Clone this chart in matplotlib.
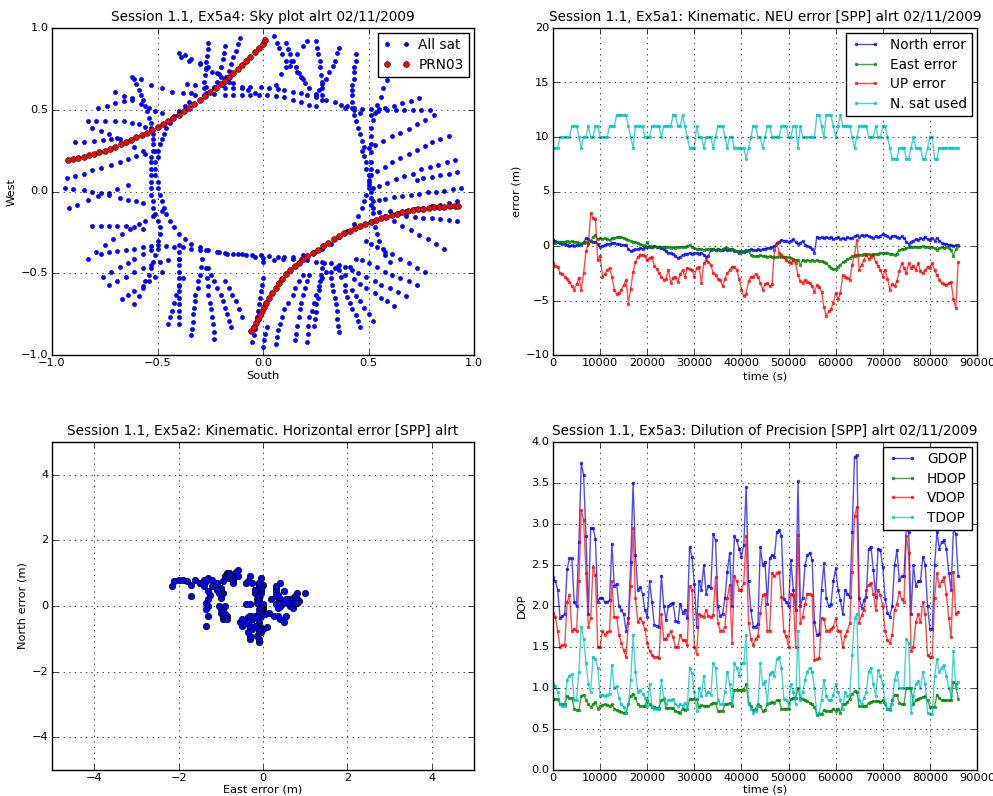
import numpy as np
import matplotlib
matplotlib.use('Agg')
import matplotlib.pyplot as plt

plt.style.use('classic')
plt.rcParams['font.size'] = 8.2
plt.rcParams['figure.facecolor'] = 'white'
plt.rcParams['savefig.facecolor'] = 'white'
plt.rcParams['xtick.major.pad'] = 2.5
plt.rcParams['ytick.major.pad'] = 2.5

# ---------------- sky plot (PRN03 highlighted) ----------------
prn03_a_x = [-0.925, -0.90, -0.875, -0.85, -0.825, -0.80, -0.775, -0.75, -0.725, -0.70,
             -0.675, -0.65, -0.625, -0.60, -0.575, -0.55, -0.525, -0.50, -0.475, -0.45,
             -0.425, -0.40, -0.375, -0.35, -0.325, -0.30, -0.275, -0.25, -0.225, -0.20,
             -0.18, -0.16, -0.14, -0.12, -0.10, -0.08, -0.06, -0.04, -0.02, 0.0, 0.01]
prn03_a_y = [0.19, 0.197, 0.205, 0.213, 0.222, 0.23, 0.24, 0.25, 0.262, 0.275,
             0.29, 0.305, 0.318, 0.333, 0.347, 0.36, 0.378, 0.395, 0.41, 0.43,
             0.45, 0.47, 0.49, 0.51, 0.535, 0.56, 0.585, 0.61, 0.635, 0.655,
             0.675, 0.70, 0.725, 0.75, 0.775, 0.80, 0.825, 0.855, 0.88, 0.905, 0.925]
prn03_b_x = [-0.055, -0.045, -0.035, -0.025, -0.015, -0.005, 0.005, 0.015, 0.03, 0.045,
             0.06, 0.075, 0.09, 0.11, 0.13, 0.15, 0.17, 0.19, 0.21, 0.235,
             0.26, 0.285, 0.31, 0.335, 0.36, 0.385, 0.41, 0.435, 0.46, 0.485,
             0.51, 0.535, 0.56, 0.585, 0.61, 0.635, 0.66, 0.685, 0.71, 0.735,
             0.76, 0.785, 0.81, 0.835, 0.86, 0.885, 0.91, 0.925]
prn03_b_y = [-0.855, -0.83, -0.805, -0.78, -0.755, -0.73, -0.705, -0.68, -0.65, -0.62,
             -0.59, -0.56, -0.535, -0.505, -0.48, -0.455, -0.435, -0.415, -0.395, -0.375,
             -0.355, -0.335, -0.313, -0.293, -0.275, -0.255, -0.24, -0.225, -0.21, -0.198,
             -0.186, -0.175, -0.164, -0.155, -0.145, -0.136, -0.128, -0.12, -0.114, -0.108,
             -0.104, -0.10, -0.097, -0.095, -0.093, -0.091, -0.09, -0.089]

sky_tracks = [
    # inner ring
    [(-0.32, 0.59), (-0.35, 0.55), (-0.37, 0.52), (-0.40, 0.49), (-0.42, 0.46), (-0.44, 0.42),
     (-0.46, 0.39), (-0.47, 0.35), (-0.48, 0.32), (-0.49, 0.29), (-0.50, 0.25), (-0.50, 0.21),
     (-0.51, 0.18), (-0.51, 0.14), (-0.51, 0.10), (-0.50, 0.06), (-0.50, 0.02), (-0.49, -0.02),
     (-0.48, -0.06), (-0.47, -0.10), (-0.46, -0.14), (-0.44, -0.18), (-0.42, -0.22), (-0.40, -0.26),
     (-0.37, -0.29), (-0.34, -0.32), (-0.30, -0.34), (-0.26, -0.36), (-0.21, -0.37), (-0.17, -0.38),
     (-0.12, -0.385), (-0.08, -0.39), (-0.04, -0.40), (0.0, -0.405)],
    [(-0.61, 0.69), (-0.60, 0.66), (-0.59, 0.62), (-0.58, 0.59), (-0.57, 0.56), (-0.56, 0.52),
     (-0.55, 0.49), (-0.54, 0.45), (-0.53, 0.42), (-0.53, 0.39), (-0.52, 0.35), (-0.52, 0.32),
     (-0.52, 0.29), (-0.52, 0.25), (-0.53, 0.21), (-0.53, 0.18), (-0.53, 0.14), (-0.53, 0.10),
     (-0.53, 0.06), (-0.53, 0.02), (-0.53, -0.02), (-0.52, -0.06), (-0.52, -0.10), (-0.51, -0.14),
     (-0.50, -0.18), (-0.49, -0.22), (-0.49, -0.26), (-0.50, -0.30), (-0.50, -0.35), (-0.51, -0.39),
     (-0.52, -0.43), (-0.53, -0.47), (-0.54, -0.51), (-0.56, -0.55), (-0.57, -0.59), (-0.59, -0.64),
     (-0.61, -0.69)],
    [(0.61, 0.72), (0.59, 0.68), (0.57, 0.63), (0.56, 0.58), (0.54, 0.53), (0.53, 0.48),
     (0.52, 0.44), (0.51, 0.39), (0.51, 0.34), (0.51, 0.29), (0.51, 0.24), (0.51, 0.18),
     (0.51, 0.14), (0.50, 0.10), (0.50, 0.06), (0.50, 0.02), (0.49, -0.02), (0.48, -0.06),
     (0.47, -0.10), (0.45, -0.15), (0.43, -0.20), (0.40, -0.24), (0.36, -0.28), (0.32, -0.32),
     (0.28, -0.35), (0.24, -0.37), (0.19, -0.39), (0.14, -0.40), (0.095, -0.41), (0.05, -0.42),
     (0.0, -0.43)],
    [(0.44, 0.84), (0.44, 0.80), (0.43, 0.76), (0.43, 0.73), (0.43, 0.69), (0.42, 0.65),
     (0.42, 0.62), (0.42, 0.59), (0.42, 0.55), (0.42, 0.51), (0.43, 0.47), (0.44, 0.43),
     (0.45, 0.39), (0.46, 0.35), (0.47, 0.31), (0.48, 0.27), (0.48, 0.22), (0.49, 0.18),
     (0.49, 0.14), (0.50, 0.10), (0.50, 0.07), (0.50, 0.04), (0.51, 0.0), (0.51, -0.04),
     (0.51, -0.08), (0.52, -0.13), (0.52, -0.18), (0.53, -0.22), (0.54, -0.26), (0.55, -0.30),
     (0.57, -0.35), (0.58, -0.39), (0.60, -0.43)],
    [(-0.36, 0.66), (-0.32, 0.65), (-0.27, 0.64), (-0.23, 0.64), (-0.18, 0.635), (-0.14, 0.63),
     (-0.10, 0.635), (-0.06, 0.64), (-0.01, 0.64), (0.03, 0.635), (0.07, 0.625), (0.10, 0.62),
     (0.14, 0.61), (0.18, 0.60), (0.21, 0.59), (0.25, 0.58), (0.30, 0.56), (0.34, 0.545),
     (0.37, 0.53), (0.40, 0.52), (0.43, 0.50), (0.46, 0.48)],
    [(-0.27, 0.60), (-0.23, 0.595), (-0.18, 0.59), (-0.14, 0.59), (-0.10, 0.59), (-0.06, 0.59),
     (-0.02, 0.59), (0.02, 0.59), (0.06, 0.585), (0.10, 0.575), (0.14, 0.56), (0.18, 0.545),
     (0.22, 0.53), (0.25, 0.52)],
    [(-0.77, -0.38), (-0.73, -0.37), (-0.69, -0.365), (-0.65, -0.36), (-0.61, -0.35), (-0.57, -0.34),
     (-0.53, -0.335), (-0.50, -0.33), (-0.46, -0.335), (-0.42, -0.34), (-0.38, -0.34), (-0.34, -0.35),
     (-0.30, -0.355), (-0.27, -0.36), (-0.22, -0.37), (-0.18, -0.375), (-0.14, -0.38), (-0.10, -0.385),
     (-0.05, -0.39), (-0.01, -0.39), (0.03, -0.395), (0.07, -0.40), (0.10, -0.40), (0.14, -0.41),
     (0.18, -0.415), (0.21, -0.42), (0.25, -0.43), (0.29, -0.435), (0.32, -0.44), (0.36, -0.45),
     (0.41, -0.46)],
    # outer passes, top left
    [(-0.40, 0.85), (-0.37, 0.835), (-0.34, 0.81), (-0.30, 0.785), (-0.26, 0.76), (-0.22, 0.725),
     (-0.18, 0.69), (-0.14, 0.665), (-0.10, 0.64), (-0.07, 0.62), (-0.04, 0.60)],
    [(-0.39, 0.82), (-0.35, 0.80), (-0.30, 0.78), (-0.27, 0.755), (-0.24, 0.73), (-0.20, 0.70),
     (-0.16, 0.67)],
    [(-0.26, 0.91), (-0.26, 0.87), (-0.265, 0.83), (-0.27, 0.79), (-0.27, 0.75), (-0.275, 0.71),
     (-0.28, 0.67), (-0.28, 0.63), (-0.28, 0.59)],
    [(-0.18, 0.89), (-0.185, 0.85), (-0.19, 0.81), (-0.20, 0.76), (-0.21, 0.72), (-0.22, 0.67),
     (-0.23, 0.63)],
    [(-0.11, 0.94), (-0.12, 0.90), (-0.13, 0.86), (-0.14, 0.82), (-0.15, 0.78), (-0.16, 0.74),
     (-0.175, 0.70), (-0.19, 0.65)],
    [(-0.62, 0.70), (-0.58, 0.69), (-0.53, 0.65), (-0.48, 0.63), (-0.43, 0.61), (-0.38, 0.60),
     (-0.34, 0.60)],
    [(-0.70, 0.61), (-0.66, 0.585), (-0.62, 0.56), (-0.58, 0.535), (-0.54, 0.51), (-0.51, 0.495),
     (-0.48, 0.48)],
    [(-0.78, 0.51), (-0.74, 0.525), (-0.70, 0.54), (-0.66, 0.555), (-0.62, 0.57)],
    [(-0.83, 0.43), (-0.79, 0.43), (-0.75, 0.43), (-0.70, 0.43), (-0.66, 0.43), (-0.62, 0.42),
     (-0.59, 0.41), (-0.56, 0.395), (-0.53, 0.38)],
    [(-0.81, 0.39), (-0.77, 0.37), (-0.73, 0.35), (-0.69, 0.325), (-0.65, 0.30), (-0.61, 0.275),
     (-0.57, 0.25)],
    [(-0.89, 0.30), (-0.85, 0.305), (-0.80, 0.31), (-0.76, 0.315), (-0.72, 0.32), (-0.68, 0.32)],
    [(-0.93, 0.08), (-0.89, 0.095), (-0.85, 0.11), (-0.81, 0.13), (-0.77, 0.145), (-0.72, 0.165),
     (-0.68, 0.18), (-0.64, 0.20), (-0.60, 0.215), (-0.56, 0.23), (-0.51, 0.25)],
    # left
    [(-0.94, 0.02), (-0.90, 0.015), (-0.85, 0.01), (-0.81, 0.0), (-0.77, -0.01), (-0.73, -0.02),
     (-0.68, -0.04), (-0.64, -0.05), (-0.60, -0.06), (-0.57, -0.07)],
    [(-0.92, -0.10), (-0.88, -0.08), (-0.83, -0.05), (-0.78, -0.03), (-0.73, -0.01), (-0.69, 0.015),
     (-0.64, 0.04)],
    [(-0.81, -0.21), (-0.77, -0.21), (-0.73, -0.21), (-0.69, -0.21), (-0.65, -0.21), (-0.61, -0.22),
     (-0.57, -0.23)],
    [(-0.83, -0.41), (-0.79, -0.37), (-0.75, -0.33), (-0.71, -0.29), (-0.67, -0.26), (-0.63, -0.23),
     (-0.59, -0.20), (-0.56, -0.18), (-0.52, -0.15), (-0.48, -0.12)],
    [(-0.76, -0.52), (-0.72, -0.49), (-0.68, -0.46), (-0.64, -0.435), (-0.61, -0.41), (-0.57, -0.385),
     (-0.53, -0.36)],
    [(-0.73, -0.57), (-0.69, -0.545), (-0.65, -0.52), (-0.61, -0.495), (-0.57, -0.47), (-0.53, -0.45),
     (-0.49, -0.43), (-0.45, -0.42), (-0.40, -0.41)],
    [(-0.67, -0.66), (-0.64, -0.635), (-0.61, -0.61), (-0.57, -0.58), (-0.54, -0.55), (-0.51, -0.52),
     (-0.48, -0.49)],
    # bottom left
    [(-0.40, -0.33), (-0.40, -0.37), (-0.40, -0.41), (-0.40, -0.45), (-0.40, -0.49), (-0.40, -0.53),
     (-0.40, -0.57), (-0.40, -0.61), (-0.40, -0.65), (-0.40, -0.69), (-0.40, -0.73), (-0.40, -0.77),
     (-0.40, -0.81)],
    [(-0.45, -0.81), (-0.44, -0.77), (-0.43, -0.73), (-0.42, -0.68), (-0.41, -0.63), (-0.40, -0.58),
     (-0.38, -0.53)],
    [(-0.34, -0.88), (-0.335, -0.84), (-0.33, -0.80), (-0.33, -0.75), (-0.325, -0.71), (-0.32, -0.67),
     (-0.32, -0.63), (-0.31, -0.59), (-0.31, -0.55), (-0.30, -0.51), (-0.295, -0.46), (-0.29, -0.41)],
    [(-0.23, -0.90), (-0.233, -0.86), (-0.235, -0.81), (-0.24, -0.77), (-0.245, -0.72), (-0.25, -0.68),
     (-0.26, -0.63), (-0.263, -0.58), (-0.265, -0.53), (-0.27, -0.47)],
    [(-0.15, -0.83), (-0.16, -0.79), (-0.17, -0.75), (-0.18, -0.71), (-0.19, -0.67), (-0.20, -0.63),
     (-0.22, -0.59), (-0.23, -0.55), (-0.245, -0.51), (-0.26, -0.47)],
    [(-0.10, -0.77), (-0.115, -0.72), (-0.13, -0.67), (-0.145, -0.63), (-0.16, -0.59), (-0.18, -0.55)],
    [(-0.05, -0.92), (-0.045, -0.88), (-0.04, -0.84), (-0.035, -0.80), (-0.03, -0.77), (-0.025, -0.73),
     (-0.02, -0.69), (-0.015, -0.65), (-0.01, -0.61), (-0.005, -0.57), (0.0, -0.53)],
    # top right
    [(0.05, 0.95), (0.065, 0.91), (0.075, 0.88), (0.09, 0.84), (0.11, 0.80), (0.13, 0.77),
     (0.16, 0.73), (0.18, 0.70), (0.20, 0.665), (0.22, 0.63), (0.25, 0.595), (0.28, 0.56)],
    [(0.11, 0.91), (0.12, 0.87), (0.13, 0.84), (0.14, 0.80), (0.155, 0.76), (0.17, 0.725), (0.19, 0.69)],
    [(0.25, 0.92), (0.255, 0.88), (0.26, 0.84), (0.27, 0.80), (0.272, 0.76), (0.275, 0.71),
     (0.28, 0.67), (0.28, 0.63), (0.28, 0.59)],
    [(0.36, 0.88), (0.35, 0.85), (0.34, 0.80), (0.33, 0.77), (0.315, 0.73), (0.30, 0.69),
     (0.28, 0.655), (0.265, 0.62), (0.25, 0.59)],
    [(0.21, 0.92), (0.19, 0.89), (0.16, 0.84), (0.135, 0.80), (0.11, 0.76), (0.085, 0.72), (0.06, 0.65)],
    # right
    [(0.39, 0.51), (0.43, 0.51), (0.47, 0.505), (0.51, 0.505), (0.55, 0.505), (0.59, 0.50),
     (0.63, 0.50), (0.67, 0.50), (0.71, 0.50), (0.75, 0.50), (0.79, 0.50)],
    [(0.74, 0.57), (0.70, 0.555), (0.66, 0.54), (0.62, 0.525), (0.58, 0.51), (0.545, 0.49), (0.51, 0.47)],
    [(0.81, 0.47), (0.77, 0.44), (0.73, 0.41), (0.69, 0.385), (0.65, 0.36), (0.61, 0.34),
     (0.57, 0.31), (0.53, 0.285), (0.50, 0.265), (0.47, 0.25)],
    [(0.88, 0.34), (0.84, 0.32), (0.80, 0.30), (0.77, 0.28), (0.73, 0.255), (0.69, 0.23),
     (0.65, 0.205), (0.61, 0.18), (0.58, 0.15), (0.54, 0.125), (0.51, 0.10)],
    [(0.91, 0.19), (0.87, 0.18), (0.83, 0.165), (0.79, 0.15), (0.75, 0.135), (0.71, 0.11),
     (0.67, 0.095), (0.63, 0.075), (0.59, 0.055), (0.55, 0.035), (0.52, 0.02)],
    [(0.92, 0.12), (0.88, 0.11), (0.84, 0.10), (0.80, 0.09), (0.76, 0.08), (0.73, 0.07)],
    [(0.94, 0.02), (0.90, 0.015), (0.86, 0.005), (0.82, 0.0), (0.78, -0.005), (0.74, -0.015),
     (0.70, -0.02), (0.66, -0.03), (0.62, -0.035), (0.58, -0.045), (0.55, -0.05), (0.52, -0.06)],
    [(0.92, -0.06), (0.88, -0.07), (0.84, -0.08), (0.80, -0.09), (0.76, -0.10), (0.72, -0.11),
     (0.68, -0.12), (0.64, -0.13)],
    [(0.92, -0.18), (0.88, -0.175), (0.84, -0.17), (0.80, -0.165), (0.76, -0.16), (0.72, -0.155),
     (0.68, -0.15), (0.64, -0.14), (0.60, -0.12)],
    [(0.86, -0.35), (0.82, -0.32), (0.78, -0.29), (0.74, -0.265), (0.70, -0.235), (0.66, -0.21),
     (0.62, -0.18), (0.58, -0.15), (0.55, -0.125), (0.52, -0.10)],
    # bottom right
    [(0.77, -0.49), (0.73, -0.465), (0.69, -0.44), (0.65, -0.41), (0.61, -0.385), (0.58, -0.37),
     (0.54, -0.34), (0.51, -0.32), (0.49, -0.30)],
    [(0.73, -0.57), (0.69, -0.55), (0.65, -0.53), (0.61, -0.51), (0.58, -0.495), (0.54, -0.46),
     (0.50, -0.44), (0.47, -0.42), (0.44, -0.41)],
    [(0.68, -0.64), (0.64, -0.615), (0.60, -0.59), (0.56, -0.57), (0.53, -0.545), (0.49, -0.52),
     (0.45, -0.50), (0.42, -0.48), (0.39, -0.46)],
    [(0.62, -0.70), (0.59, -0.67), (0.56, -0.65), (0.53, -0.62), (0.49, -0.59), (0.46, -0.565),
     (0.43, -0.535), (0.39, -0.51), (0.36, -0.48), (0.35, -0.46)],
    [(0.52, -0.79), (0.50, -0.75), (0.48, -0.71), (0.46, -0.67), (0.44, -0.64), (0.42, -0.60),
     (0.39, -0.57), (0.37, -0.52), (0.34, -0.47)],
    [(0.46, -0.83), (0.45, -0.79), (0.44, -0.755), (0.42, -0.72), (0.41, -0.68), (0.40, -0.645),
     (0.39, -0.61)],
    [(0.36, -0.86), (0.355, -0.82), (0.35, -0.78), (0.35, -0.73), (0.345, -0.69), (0.34, -0.65),
     (0.33, -0.61), (0.325, -0.57), (0.32, -0.53), (0.32, -0.49)],
    [(0.24, -0.82), (0.245, -0.78), (0.25, -0.74), (0.25, -0.69), (0.26, -0.65), (0.265, -0.60),
     (0.27, -0.55), (0.275, -0.51), (0.28, -0.47), (0.28, -0.43)],
    [(0.21, -0.92), (0.213, -0.87), (0.215, -0.82), (0.22, -0.77), (0.23, -0.73), (0.24, -0.68),
     (0.25, -0.63), (0.265, -0.58), (0.28, -0.53), (0.30, -0.49)],
    [(0.15, -0.91), (0.155, -0.87), (0.16, -0.82), (0.17, -0.77), (0.175, -0.72), (0.18, -0.68),
     (0.19, -0.63), (0.20, -0.59), (0.21, -0.55), (0.22, -0.51)],
    [(0.06, -0.93), (0.065, -0.89), (0.07, -0.85), (0.08, -0.81), (0.09, -0.77), (0.10, -0.72),
     (0.12, -0.68), (0.14, -0.63), (0.15, -0.59), (0.17, -0.55), (0.19, -0.51)],
    [(0.0, -0.95), (0.005, -0.91), (0.01, -0.87), (0.02, -0.83)],
]

# ---------------- NEU errors, one sample every 500 s ----------------
north_err = [0.55, 0.45, 0.35, 0.25, 0.2, 0.2, 0.1, 0.0, 0.05, 0.0,
             0.1, 0.05, 0.2, 0.35, 0.7, 0.6, 0.45, 0.4, 0.4, 0.2,
             -0.05, 0.0, 0.1, 0.2, 0.2, 0.25, 0.3, 0.2, 0.15, 0.1,
             0.1, 0.1, -0.3, -0.5, -0.4, -0.3, -0.3, -0.2, -0.25, -0.1,
             -0.05, -0.05, -0.1, 0.0, -0.05, -0.1, -0.2, -0.3, -0.5, -0.6,
             -0.65, -0.7, -0.9, -1.1, -1.0, -0.8, -0.75, -0.7, -0.65, -0.7,
             -0.6, -0.65, -0.7, -0.6, -0.8, -1.0, -0.9, -0.4, -0.3, -0.35,
             -0.3, -0.4, -0.35, -0.3, -0.35, -0.4, -0.3, -0.45, -0.5, -0.6,
             -0.5, -0.55, -0.5, -0.4, -0.3, -0.35, -0.4, -0.3, -0.4, -0.3,
             -0.25, -0.2, -0.15, -0.1, 0.0, 0.25, 0.4, 0.55, 0.5, 0.45,
             0.4, 0.5, 0.6, 0.35, 0.2, 0.3, 0.45, 0.1, 0.0, -0.1,
             -0.3, -0.6, 0.85, 0.75, 0.8, 0.7, 0.8, 0.75, 0.8, 0.6,
             0.75, 0.8, 0.65, 0.7, 0.6, 0.8, 0.7, 0.75, 0.9, 1.0,
             0.85, 1.0, 0.95, 1.0, 0.9, 0.85, 0.75, 0.9, 0.8, 0.95,
             1.1, 1.05, 0.9, 0.7, 0.9, 0.95, 0.8, 0.7, 0.9, 0.7,
             0.4, 0.2, 0.4, 0.5, 0.6, 0.55, 0.7, 0.65, 0.85, 0.6,
             0.55, 0.7, 0.5, 0.75, 0.5, 0.3, 0.2, 0.15, 0.1, 0.05,
             0.0, 0.05, 0.05]
east_err = [0.3, 0.3, 0.35, 0.35, 0.4, 0.4, 0.45, 0.4, 0.45, 0.4,
            0.35, 0.3, 0.2, 0.3, 0.4, 0.3, 0.5, 0.8, 1.0, 0.6,
            0.7, 0.65, 0.7, 0.6, 0.55, 0.7, 0.75, 0.8, 0.85, 0.8,
            0.75, 0.6, 0.55, 0.5, 0.4, 0.35, 0.25, 0.15, 0.05, 0.0,
            0.35, 0.0, -0.05, 0.0, -0.05, -0.1, -0.1, -0.05, -0.1, -0.1,
            -0.15, -0.1, -0.15, -0.1, -0.1, -0.05, -0.1, 0.0, 0.1, -0.1,
            -0.2, -0.3, -0.25, -0.3, -0.35, -0.3, -0.3, -0.25, -0.3, -0.35,
            -0.3, -0.35, -0.3, -0.2, -0.15, -0.25, -0.3, -0.4, -0.45, -0.5,
            -0.55, -0.45, -0.35, -0.5, -0.85, -0.9, -0.95, -0.9, -0.85, -0.95,
            -0.9, -1.0, -0.95, -1.0, -1.05, -1.0, -0.95, -1.0, -1.05, -1.0,
            -1.05, -1.1, -1.2, -1.25, -1.3, -1.7, -1.3, -1.35, -1.3, -1.35,
            -1.3, -1.35, -1.3, -1.35, -1.4, -1.5, -1.6, -1.8, -2.0, -2.15,
            -2.1, -1.9, -1.7, -1.5, -1.4, -1.2, -1.1, -0.95, -0.9, -0.85,
            -0.8, -0.8, -0.75, -0.8, -0.75, -0.8, -0.7, -0.75, -0.7, -0.65,
            -0.6, -0.65, -0.6, -0.7, -0.75, -0.8, -0.7, -0.4, -0.3, -0.25,
            -0.2, -0.1, -0.05, -0.05, -0.1, -0.05, -0.1, 0.0, -0.05, -0.1,
            -0.05, -0.1, -0.2, -0.35, -0.2, -0.1, -0.15, -0.1, -0.15, -0.4,
            -0.9, -0.3, 0.0]
up_err = [-1.6, -1.8, -1.9, -2.5, -2.6, -2.8, -3.0, -3.3, -3.7, -4.0,
          -3.5, -2.9, -4.0, -2.5, -0.5, 0.2, 3.0, 2.6, 2.5, -1.3,
          -0.9, -2.8, -2.6, -2.2, -2.0, -2.8, -4.0, -4.4, -4.3, -4.0,
          -3.6, -3.1, -5.3, -3.9, -2.4, -1.5, -1.0, -0.8, -0.8, -0.9,
          -1.3, -1.1, -1.0, -1.8, -2.1, -2.5, -2.8, -3.1, -3.0, -2.2,
          -3.4, -2.9, -2.8, -3.3, -2.6, -2.2, -2.8, -2.0, -2.1, -2.2,
          -2.8, -2.0, -1.9, -3.4, -1.6, -1.3, -1.5, -1.7, -2.5, -2.7,
          -3.0, -3.1, -3.7, -3.0, -2.5, -2.2, -1.9, -1.9, -2.2, -3.0,
          -4.0, -4.6, -4.4, -3.2, -2.8, -2.8, -2.6, -2.8, -3.4, -4.0,
          -3.5, -3.4, -3.7, -3.5, -0.4, 0.25, -0.6, -0.8, -1.0, -1.3,
          -1.5, -1.6, -1.3, -1.6, -2.7, -3.2, -3.4, -3.1, -3.3, -3.4,
          -3.7, -4.2, -3.6, -3.8, -4.2, -5.6, -6.4, -6.0, -5.8, -5.2,
          -4.3, -4.9, -4.3, -2.7, -2.8, -2.9, -3.1, -1.7, -0.8, 0.55,
          -2.2, -1.7, -1.3, -0.7, -1.2, -1.0, -0.8, -1.5, -1.8, -2.2,
          -2.8, -2.2, -3.0, -4.0, -3.5, -3.7, -3.2, -2.3, -1.6, -2.0,
          -2.5, -1.6, -2.0, -1.8, -2.2, -1.6, -2.3, -2.5, -2.2, -1.9,
          -2.0, -1.6, -2.2, -2.7, -3.1, -3.4, -3.5, -3.6, -3.4, -3.3,
          -4.9, -5.7, -1.5]
n_sat = [9, 9, 9, 10, 10, 10, 10, 10, 11, 11,
         11, 10, 9, 10, 10, 11, 10, 10, 11, 11,
         10, 10, 10, 10, 11, 11, 11, 12, 12, 12,
         12, 12, 11, 10, 9, 11, 11, 11, 11, 10,
         10, 10, 11, 11, 11, 11, 10, 11, 11, 11,
         11, 12, 12, 11, 11, 12, 11, 10, 9, 9,
         9, 11, 10, 10, 9, 10, 10, 10, 9, 10,
         11, 11, 11, 10, 9, 10, 10, 9, 9, 9,
         9, 9, 8, 9, 10, 11, 11, 10, 10, 9,
         10, 11, 11, 10, 10, 10, 10, 11, 11, 11,
         10, 10, 11, 11, 9, 11, 10, 10, 10, 10,
         10, 10, 12, 12, 11, 10, 12, 12, 12, 11,
         10, 11, 12, 11, 11, 11, 11, 10, 9, 10,
         11, 11, 11, 11, 10, 10, 10, 11, 10, 10,
         11, 11, 10, 9, 8, 8, 8, 9, 9, 9,
         8, 8, 9, 10, 9, 9, 9, 8, 8, 9,
         10, 10, 8, 8, 9, 9, 9, 9, 9, 9,
         9, 9, 9]

# ---------------- DOP, one sample every 500 s ----------------
gdop = [2.35, 2.3, 2.2, 1.85, 1.88, 1.9, 2.45, 2.58, 2.58, 2.05,
        2.0, 2.78, 3.74, 3.6, 2.85, 1.9, 2.95, 2.95, 2.82, 2.05,
        2.1, 2.1, 2.05, 2.05, 2.07, 2.76, 2.25, 2.27, 2.0, 1.95,
        1.9, 1.7, 1.85, 2.54, 3.5, 2.62, 2.2, 2.23, 2.15, 1.95,
        1.87, 2.3, 2.05, 1.77, 1.76, 1.75, 2.37, 2.0, 1.83, 2.0,
        2.03, 2.04, 1.82, 1.8, 2.03, 1.92, 1.95, 1.85, 2.72, 2.6,
        2.27, 1.75, 2.3, 2.2, 2.5, 2.15, 2.25, 2.22, 2.88, 2.8,
        2.0, 1.88, 1.9, 2.1, 2.42, 2.65, 2.0, 2.85, 2.8, 2.7,
        2.6, 2.75, 3.45, 2.3, 1.95, 1.75, 1.75, 1.78, 2.72, 2.5,
        2.54, 2.03, 2.58, 2.62, 2.6, 2.9, 2.93, 2.85, 2.09, 2.05,
        2.0, 2.56, 2.2, 1.95, 3.52, 2.0, 2.1, 2.5, 2.62, 2.65,
        2.56, 1.8, 1.65, 1.66, 2.2, 2.52, 2.1, 2.0, 2.02, 2.3,
        2.46, 2.2, 2.07, 1.9, 2.2, 2.15, 2.11, 2.9, 3.82, 3.84,
        2.1, 1.98, 2.07, 2.11, 2.7, 2.72, 2.44, 2.11, 2.7, 2.68,
        2.48, 2.09, 1.91, 1.87, 2.0, 2.5, 2.68, 2.32, 2.36, 2.36,
        2.95, 2.9, 1.9, 2.5, 2.25, 2.3, 2.3, 2.6, 2.5, 2.0,
        1.72, 1.72, 2.5, 2.9, 2.7, 2.78, 2.8, 2.7, 2.4, 2.2,
        2.95, 2.88, 2.37]
hdop = [0.87, 0.87, 0.86, 0.8, 0.8, 0.8, 0.9, 0.88, 0.88, 0.75,
        0.73, 0.73, 0.9, 0.92, 0.85, 0.8, 0.77, 0.8, 0.83, 0.75,
        0.78, 0.79, 0.8, 0.79, 0.78, 0.8, 0.75, 0.73, 0.72, 0.71,
        0.7, 0.7, 0.8, 0.9, 0.93, 0.88, 0.8, 0.78, 0.78, 0.78,
        0.85, 0.8, 0.77, 0.77, 0.76, 0.76, 0.85, 0.87, 0.76, 0.76,
        0.76, 0.76, 0.72, 0.71, 0.7, 0.75, 0.73, 0.75, 0.86, 0.86,
        0.86, 0.86, 0.77, 0.79, 0.78, 0.78, 0.78, 0.8, 0.82, 0.82,
        0.72, 0.72, 0.72, 0.8, 0.8, 0.82, 0.78, 0.98, 0.98, 0.98,
        0.98, 0.97, 1.05, 0.82, 0.78, 0.73, 0.75, 0.8, 0.78, 0.72,
        0.73, 0.8, 0.82, 0.83, 0.82, 0.85, 0.85, 0.75, 0.75, 0.75,
        0.75, 0.87, 0.88, 0.88, 1.0, 0.88, 0.86, 0.85, 0.84, 0.82,
        0.8, 0.77, 0.67, 0.68, 0.68, 0.73, 0.72, 0.72, 0.72, 0.75,
        0.72, 0.75, 0.7, 0.8, 0.8, 0.83, 0.87, 0.93, 0.96, 0.95,
        0.78, 0.78, 0.78, 0.78, 0.82, 0.83, 0.84, 0.84, 0.84, 0.83,
        0.85, 0.8, 0.75, 0.75, 0.85, 0.92, 0.92, 0.82, 0.8, 0.8,
        1.0, 1.0, 1.0, 0.8, 0.85, 0.87, 0.88, 0.89, 0.9, 0.85,
        0.77, 0.77, 0.77, 0.92, 0.88, 0.85, 0.85, 0.85, 0.85, 0.85,
        1.07, 1.05, 0.87]
vdop = [1.91, 1.87, 1.69, 1.5, 1.52, 1.52, 2.05, 2.13, 1.7, 1.72,
        1.69, 2.3, 3.17, 3.05, 2.4, 1.75, 1.85, 2.48, 2.38, 1.5,
        1.5, 1.7, 1.65, 1.68, 1.7, 2.3, 1.86, 1.87, 1.65, 1.55,
        1.46, 1.38, 1.79, 2.24, 2.95, 2.1, 1.8, 1.85, 1.8, 1.72,
        1.55, 1.45, 1.4, 1.38, 1.38, 1.36, 1.9, 1.6, 1.6, 1.65,
        1.69, 1.62, 1.5, 1.5, 1.65, 1.58, 1.58, 1.52, 2.24, 2.2,
        1.5, 1.42, 1.9, 1.88, 1.87, 1.95, 1.88, 1.86, 1.89, 2.35,
        1.79, 1.7, 1.7, 1.75, 2.1, 2.26, 1.55, 2.36, 2.3, 2.2,
        2.2, 2.28, 2.85, 1.79, 1.6, 1.52, 1.6, 1.63, 1.91, 2.13,
        2.15, 1.7, 1.7, 2.4, 2.36, 2.4, 2.42, 2.11, 1.69, 1.63,
        1.5, 2.15, 2.13, 1.5, 2.87, 1.79, 1.87, 2.03, 2.15, 2.15,
        2.13, 1.34, 1.35, 1.36, 1.85, 1.84, 1.7, 1.7, 1.72, 1.75,
        1.85, 1.7, 1.69, 1.5, 1.63, 1.7, 1.79, 2.42, 3.1, 3.21,
        1.79, 1.89, 1.95, 2.2, 2.26, 2.28, 2.15, 1.95, 2.2, 2.13,
        2.0, 1.69, 1.58, 1.55, 1.65, 1.95, 2.03, 2.17, 2.09, 2.05,
        2.85, 2.65, 1.45, 1.5, 1.8, 1.9, 1.8, 2.05, 1.9, 1.4,
        1.38, 1.38, 2.1, 2.4, 2.25, 2.3, 2.35, 2.15, 1.85, 1.62,
        2.42, 1.9, 1.93]
tdop = [1.05, 1.02, 0.95, 0.8, 0.78, 0.78, 1.1, 1.15, 1.17, 0.85,
        0.85, 1.2, 1.75, 1.6, 1.3, 1.05, 0.95, 1.38, 1.35, 1.25,
        0.9, 0.92, 0.9, 0.92, 0.93, 1.28, 1.0, 1.02, 0.88, 0.8,
        0.77, 0.7, 0.8, 1.1, 1.65, 1.2, 0.95, 0.97, 0.93, 0.88,
        0.78, 1.05, 0.78, 0.75, 0.75, 0.74, 1.1, 0.88, 0.8, 0.85,
        0.85, 0.87, 0.8, 0.78, 0.8, 0.78, 0.82, 0.75, 1.25, 1.18,
        0.95, 0.72, 1.0, 0.9, 1.15, 0.92, 0.95, 0.92, 1.3, 1.25,
        0.85, 0.8, 0.8, 0.95, 1.2, 1.05, 0.8, 1.3, 1.25, 1.15,
        1.3, 1.3, 1.65, 0.8, 0.75, 0.7, 0.72, 0.78, 1.3, 1.05,
        1.08, 0.82, 1.17, 1.2, 1.15, 1.35, 1.38, 1.25, 0.87, 0.85,
        0.8, 1.05, 0.95, 0.8, 1.7, 0.85, 0.95, 1.1, 1.2, 1.25,
        1.2, 1.0, 0.68, 0.7, 0.85, 1.1, 0.9, 0.85, 0.85, 0.92,
        1.05, 0.95, 0.85, 0.75, 0.95, 0.9, 0.92, 1.4, 1.85, 1.9,
        0.85, 0.8, 0.88, 0.95, 1.2, 1.25, 1.05, 0.9, 1.22, 1.15,
        1.05, 0.82, 0.75, 0.73, 0.8, 1.1, 1.2, 1.0, 1.0, 1.0,
        1.6, 1.55, 0.7, 0.9, 1.05, 1.08, 1.0, 1.2, 1.05, 0.7,
        0.68, 0.68, 1.15, 1.35, 1.2, 1.25, 1.28, 1.15, 1.0, 0.9,
        1.45, 1.0, 1.07]

step = 500
t_neu = np.arange(len(north_err)) * step
t_sat = np.arange(len(n_sat)) * step
t_dop = np.arange(len(gdop)) * step

fig = plt.figure(figsize=(9.93, 7.96), dpi=100)
W, H = 993.0, 796.0

def place(l, t, r, b):
    return fig.add_axes([l / W, 1 - b / H, (r - l) / W, (b - t) / H])

# sky plot
ax1 = place(52, 28, 474, 355)
sx = [p[0] for tr in sky_tracks for p in tr]
sy = [p[1] for tr in sky_tracks for p in tr]
ax1.plot(sx, sy, 'o', color='b', mec='b', ms=2.9, label='All sat')
ax1.plot(prn03_a_x, prn03_a_y, 'o', color='r', mec='k', mew=0.4, ms=4.2, label='PRN03')
ax1.plot(prn03_b_x, prn03_b_y, 'o', color='r', mec='k', mew=0.4, ms=4.2)
ax1.set_xlim(-1, 1)
ax1.set_ylim(-1, 1)
ax1.set_xticks([-1.0, -0.5, 0.0, 0.5, 1.0])
ax1.set_yticks([-1.0, -0.5, 0.0, 0.5, 1.0])
ax1.grid(True)
ax1.set_xlabel('South', labelpad=2)
ax1.set_ylabel('West', labelpad=3)
ax1.set_title('Session 1.1, Ex5a4: Sky plot alrt 02/11/2009')
ax1.legend(loc='upper right', numpoints=2, borderaxespad=0.35, handletextpad=0.6,
           labelspacing=0.4)

# NEU error
ax2 = place(553, 28, 977, 355)
ax2.plot(t_neu, north_err, '.-', color='b', ms=4, alpha=0.7, label='North error')
ax2.plot(t_neu, east_err, '.-', color='g', ms=4, alpha=0.7, label='East error')
ax2.plot(t_neu, up_err, '.-', color='r', ms=4, alpha=0.7, label='UP error')
ax2.plot(t_sat, n_sat, '.-', color='c', ms=4, alpha=0.7, label='N. sat used')
ax2.set_xlim(0, 90000)
ax2.set_ylim(-10, 20)
ax2.grid(True)
ax2.set_xlabel('time (s)', labelpad=2)
ax2.set_ylabel('error (m)', labelpad=3)
ax2.set_title('Session 1.1, Ex5a1: Kinematic. NEU error [SPP] alrt 02/11/2009')
ax2.legend(loc='upper right', numpoints=2, borderaxespad=0.35, handletextpad=0.8,
           labelspacing=0.4)

# horizontal error
ax3 = place(52, 442, 474, 770)
ax3.plot(east_err, north_err, 'o', color='b', mec='k', mew=0.5, ms=4.6)
ax3.set_xlim(-5, 5)
ax3.set_ylim(-5, 5)
ax3.set_xticks([-4, -2, 0, 2, 4])
ax3.set_yticks([-4, -2, 0, 2, 4])
ax3.grid(True)
ax3.set_xlabel('East error (m)', labelpad=1)
ax3.set_ylabel('North error (m)', labelpad=3)
ax3.set_title('Session 1.1, Ex5a2: Kinematic. Horizontal error [SPP] alrt')

# DOP
ax4 = place(553, 442, 977, 770)
ax4.plot(t_dop, gdop, '.-', color='b', ms=4, alpha=0.7, label='GDOP')
ax4.plot(t_dop, hdop, '.-', color='g', ms=4, alpha=0.7, label='HDOP')
ax4.plot(t_dop, vdop, '.-', color='r', ms=4, alpha=0.7, label='VDOP')
ax4.plot(t_dop, tdop, '.-', color='c', ms=4, alpha=0.7, label='TDOP')
ax4.set_xlim(0, 90000)
ax4.set_ylim(0, 4)
ax4.set_yticks(np.arange(0, 4.01, 0.5))
ax4.grid(True)
ax4.set_xlabel('time (s)', labelpad=1)
ax4.set_ylabel('DOP', labelpad=3)
ax4.set_title('Session 1.1, Ex5a3: Dilution of Precision [SPP] alrt 02/11/2009')
ax4.legend(loc='upper right', numpoints=2, borderaxespad=0.35, handletextpad=0.8,
           labelspacing=0.4)

fig.savefig('out.png', dpi=100)
